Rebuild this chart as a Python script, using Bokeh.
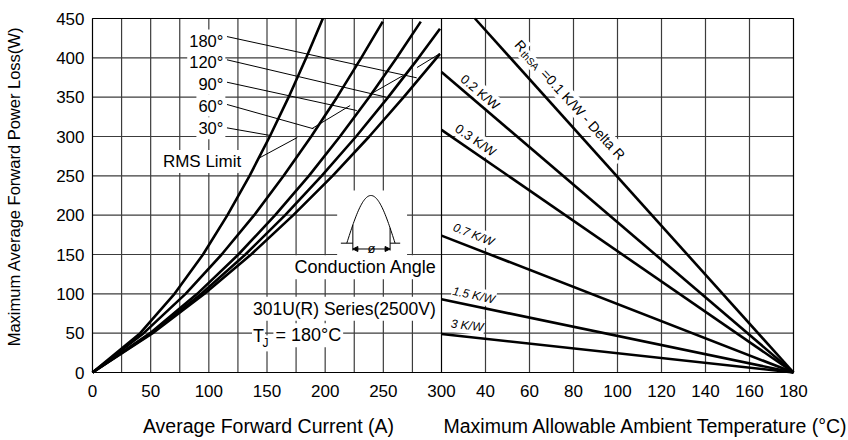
import numpy as np
from bokeh.plotting import figure
from bokeh.models import FixedTicker, Range1d, Arrow, NormalHead
from bokeh.core.properties import value
from bokeh.embed import file_html
from bokeh.resources import INLINE

FONT = "Liberation Sans"
GRID = "#3c3c3c"

# ---------------- data: left panel (Average Forward Current A -> Power Loss W)
pow_levels = [0, 50, 100, 150, 200, 250, 300, 350, 400]
cur_30 = [0, 41, 70.5, 95, 116, 135, 152.4, 168.6, 183.7, 198]
pow_30 = pow_levels + [450]
cur_60 = [0, 44, 80, 111, 139, 164.3, 188, 210.2, 231, 249.5]
pow_60 = pow_levels + [446]
cur_90 = [0, 49.5, 90, 125.4, 157, 186, 212.7, 237.8, 261.5, 282.2]
pow_90 = pow_levels + [446]
cur_120 = [0, 50.7, 93.6, 131.4, 165.6, 197, 226.6, 254.2, 280.3, 298.7]
pow_120 = pow_levels + [437]
cur_180 = [0, 51.7, 96.3, 136.3, 172.6, 206.4, 237.9, 267.5, 298.7]
pow_180 = pow_levels[:-1] + [405]

# RMS limit (thin line, drawn in pieces)
rms_cur = [142.5, 176, np.nan, 188.6, 221.5, np.nan, 240, 267, np.nan, 279, 298.7]
rms_pow = [272, 298.7, np.nan, 310, 339.4, np.nan, 354.7, 377.5, np.nan, 387.7, 405.5]

angle_labels = ["180°", "120°", "90°", "60°", "30°"]
angle_label_pow = [422, 394.5, 367, 339.4, 310.5]
leader_cur_end = [278.7, 252.4, 227.2, 190, 152.8]
leader_pow_end = [374.6, 350, 333, 309.8, 301.3]
leader_pow_start = [427, 397.5, 369, 340.7, 311]

# ---------------- data: right panel (Ambient Temperature °C -> Power Loss W)
rth_labels = ["0.2 K/W", "0.3 K/W", "0.7 K/W", "1.5 K/W", "3 K/W"]
amb_start = [35.2, 20, 20, 20, 20, 20]
pow_start = [450, 382, 308.5, 174, 93, 49]
amb_end = [180, 180, 180, 180, 180, 180]
pow_end = [0, 0, 0, 0, 0, 0]

cur_ticks = [0, 50, 100, 150, 200, 250, 300]
cur_minor = [25, 75, 125, 175, 225, 275]
amb_ticks = [40, 60, 80, 100, 120, 140, 160, 180]
amb_tick_labels = ["40", "60", "80", "100", "120", "140", "160", "180"]
pow_ticks = [0, 50, 100, 150, 200, 250, 300, 350, 400, 450]

# ---------------- geometry (canvas pixels) of the two side-by-side panels
W, H = 848, 440
PX_LEFT, PX_SPLIT, PX_RIGHT, PX_TOP, PX_BOTTOM = 92, 441, 793, 18, 372
CUR0, CUR1 = 0, 300
AMB0, AMB1 = 20, 180
POW0, POW1 = 0, 450
cur_per_px = (CUR1 - CUR0) / (PX_SPLIT - PX_LEFT)
amb_per_px = (AMB1 - AMB0) / (PX_RIGHT - PX_SPLIT)
pow_per_px = (POW1 - POW0) / (PX_BOTTOM - PX_TOP)

x_range = Range1d(CUR0 - PX_LEFT * cur_per_px, CUR1 + (W - PX_SPLIT) * cur_per_px)
amb_range = Range1d(AMB0 - PX_SPLIT * amb_per_px, AMB0 + (W - PX_SPLIT) * amb_per_px)
y_range = Range1d(POW0 - (H - PX_BOTTOM) * pow_per_px, POW1 + PX_TOP * pow_per_px)
cur_right_edge = CUR1 + (PX_RIGHT - PX_SPLIT) * cur_per_px
amb_pos = [round(CUR1 + (t - AMB0) * amb_per_px ** -1 * cur_per_px, 6) for t in amb_ticks]

p = figure(width=W, height=H, x_range=x_range, y_range=y_range,
           output_backend="svg", toolbar_location=None,
           min_border_left=0, min_border_right=0, min_border_top=0, min_border_bottom=0)
p.extra_x_ranges = {"amb": amb_range}
p.outline_line_color = None
p.xgrid.visible = False
p.ygrid.visible = False

xa = p.xaxis[0]
ya = p.yaxis[0]
xa.fixed_location = POW0
ya.fixed_location = CUR0
xa.ticker = FixedTicker(ticks=cur_ticks + amb_pos)
xa.major_label_overrides = {pos: lab for pos, lab in zip(amb_pos, amb_tick_labels)}
ya.ticker = FixedTicker(ticks=pow_ticks)
for ax in (xa, ya):
    ax.axis_line_color = None
    ax.major_tick_line_color = None
    ax.minor_tick_line_color = None
    ax.major_tick_out = 0
    ax.major_tick_in = 0
    ax.major_label_text_font = FONT
    ax.major_label_text_font_size = "17px"
    ax.major_label_text_color = "black"
xa.major_label_standoff = 12
ya.major_label_standoff = 8

# grid lines of both panels (bounded to the panels) and panel frames
vgrid = cur_ticks[1:-1] + cur_minor + amb_pos[:-1]
p.segment(x0=vgrid, y0=[POW0] * len(vgrid), x1=vgrid, y1=[POW1] * len(vgrid),
          line_color=GRID, line_width=1.2)
hgrid = pow_ticks[1:-1]
p.segment(x0=[CUR0] * len(hgrid), y0=hgrid, x1=[cur_right_edge] * len(hgrid), y1=hgrid,
          line_color=GRID, line_width=1.2)
p.quad(left=[CUR0], right=[cur_right_edge], bottom=[POW0], top=[POW1],
       fill_color=None, line_color="black", line_width=1.2)
p.segment(x0=[CUR1], y0=[POW0], x1=[CUR1], y1=[POW1], line_color="black", line_width=1.2)

# axis titles
TT = dict(text_font=value(FONT), text_color="black", text_baseline="middle")
title_pow = POW0 - (425 - PX_BOTTOM) * pow_per_px
p.text(x=[CUR0 + (268 - PX_LEFT) * cur_per_px], y=[title_pow],
       text=["Average Forward Current (A)"], text_align="center", text_font_size="19.5px", **TT)
p.text(x=[AMB0 + 2 * amb_per_px], y=[title_pow], x_range_name="amb",
       text=["Maximum Allowable Ambient Temperature (°C)"], text_align="left",
       text_font_size="19.5px", **TT)
p.text(x=[CUR0 - (PX_LEFT - 13) * cur_per_px], y=[(PX_BOTTOM - 186) * pow_per_px],
       text=["Maximum Average Forward Power Loss(W)"], angle=np.pi / 2, text_align="center",
       text_font_size="16.5px", **TT)

# ---------------- left panel annotations (white-backed texts first)
TXT = dict(text_font=value(FONT), text_color="black", background_fill_color="white")
p.text(x=[114.2] * 5, y=angle_label_pow, text=angle_labels, text_align="right",
       text_baseline="middle", text_font_size="16.5px", padding=2, **TXT)
p.text(x=[129.6], y=[268.2], text=["RMS Limit"], text_align="right",
       text_baseline="middle", text_font_size="17px", padding=2, **TXT)

# conduction-angle icon
p.quad(left=[210.3], right=[270.4], bottom=[147.5], top=[231.4],
       fill_color="white", line_color=None)
p.text(x=[234.8], y=[133.9], text=["Conduction Angle"], text_align="center",
       text_baseline="middle", text_font_size="18px", padding=2, **TXT)
ax0, ax1, base, peak = 218.6, 260.1, 164.4, 225.0
xs = np.linspace(ax0, ax1, 60)
p.line(xs, base + (peak - base) * np.sin(np.pi * (xs - ax0) / (ax1 - ax0)),
       line_color="black", line_width=1)
p.segment(x0=[213.5, 255.8], y0=[base, base], x1=[223.8, 264.5], y1=[base, base],
          line_color="black", line_width=1)
for xv in (223.8, 255.8):
    ytop = base + (peak - base) * np.sin(np.pi * (xv - ax0) / (ax1 - ax0))
    p.segment(x0=[xv], y0=[ytop], x1=[xv], y1=[155], line_color="black", line_width=1)
for xe in (223.8, 255.8):
    p.add_layout(Arrow(end=NormalHead(size=5, fill_color="black", line_color="black"),
                       x_start=239.8, y_start=157, x_end=xe, y_end=157, line_width=1))
p.text(x=[239.8], y=[157], text=["ø"], text_align="center", text_baseline="middle",
       text_font_size="13px", padding=1, **TXT)

p.text(x=[136.2], y=[81], text=["301U(R) Series(2500V)"], text_align="left",
       text_baseline="middle", text_font_size="17.5px", padding=2, **TXT)
p.text(x=[137.1], y=[47], text=["T"], text_align="left", text_baseline="middle",
       text_font_size="18px", padding=1, **TXT)
p.text(x=[145.3], y=[37], text=["J"], text_align="left", text_baseline="middle",
       text_font_size="12px", padding=1, **TXT)
p.text(x=[155.5], y=[47.5], text=["= 180°C"], text_align="left", text_baseline="middle",
       text_font_size="18px", padding=2, **TXT)

# leader lines and RMS limit
p.segment(x0=[115.6] * 5, y0=leader_pow_start, x1=leader_cur_end, y1=leader_pow_end,
          line_color="black", line_width=1)
p.line(rms_cur, rms_pow, line_color="black", line_width=1)

# curves
for c, pw in ((cur_30, pow_30), (cur_60, pow_60), (cur_90, pow_90),
              (cur_120, pow_120), (cur_180, pow_180)):
    p.line(c, pw, line_color="black", line_width=2.6)

# ---------------- right panel (drawn on the temperature scale)
RT = dict(text_font=value(FONT), text_color="black", background_fill_color="white",
          text_align="left", text_baseline="middle", padding=1, x_range_name="amb")
p.text(x=[54.2], y=[420.8], text=["R"], angle=-0.83, text_font_size="14px", **RT)
p.text(x=[56.6], y=[407.5], text=["thSA"], angle=-0.83, text_font_size="10px", **RT)
p.text(x=[66.0], y=[384.0], text=["=0.1 K/W - Delta R"], angle=-0.83,
       text_font_size="14px", **RT)
p.text(x=[29.2], y=[376.3], text=[rth_labels[0]], angle=-0.707, text_font_size="13px", **RT)
p.text(x=[26.5], y=[312.7], text=[rth_labels[1]], angle=-0.604, text_font_size="13px", **RT)
p.text(x=[25.1], y=[185.6], text=[rth_labels[2]], angle=-0.372, text_font_size="12px",
       text_font_style="italic", **RT)
p.text(x=[24.7], y=[104.0], text=[rth_labels[3]], angle=-0.204, text_font_size="12px",
       text_font_style="italic", **RT)
p.text(x=[23.8], y=[62.3], text=[rth_labels[4]], angle=-0.11, text_font_size="12px",
       text_font_style="italic", **RT)

p.segment(x0=amb_start, y0=pow_start, x1=amb_end, y1=pow_end, x_range_name="amb",
          line_color="black", line_width=2.6)

open("out.html", "w").write(file_html(p, INLINE))
